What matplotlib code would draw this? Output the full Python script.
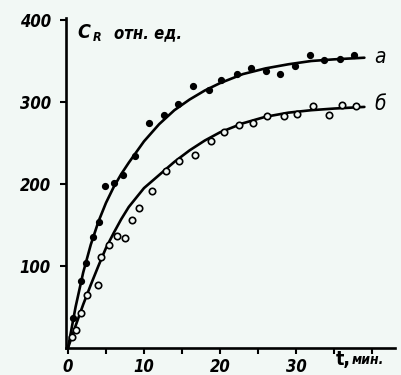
import numpy as np
import matplotlib
matplotlib.use('Agg')
import matplotlib.pyplot as plt

# кривая а (залитые точки)
t_a = [0.7, 1.7, 2.4, 3.3, 4.1, 4.9, 6.1, 7.3, 8.8, 10.7, 12.6, 14.5, 16.5, 18.5,
       20.2, 22.2, 24.1, 26.1, 27.9, 29.9, 31.8, 33.7, 35.8, 37.6]
c_a = [37, 82, 104, 135, 154, 197, 201, 211, 234, 274, 284, 298, 320, 315,
       327, 334, 342, 338, 334, 344, 357, 351, 352, 357]

# кривая б (светлые точки)
t_b = [0.5, 1.05, 1.7, 2.5, 3.9, 4.4, 5.4, 6.5, 7.5, 8.4, 9.3, 11.0, 12.9, 14.6,
       16.7, 18.8, 20.5, 22.5, 24.4, 26.2, 28.4, 30.2, 32.2, 34.3, 36.0, 37.9]
c_b = [14, 22, 43, 65, 77, 111, 126, 137, 134, 156, 171, 191, 216, 228,
       235, 253, 264, 272, 275, 283, 283, 285, 295, 284, 296, 295]

# сглаженные линии
t_line = [0, 1, 2, 3, 4, 5, 6, 7, 8, 10, 12, 14, 16, 18, 20, 23, 26, 29, 32, 35, 39]
line_a = [0, 50, 92, 126, 154, 177, 196, 212, 226, 252, 273, 290, 303, 314, 323,
          334, 341, 346, 350, 352, 354]
line_b = [0, 27, 53, 77, 100, 122, 140, 157, 172, 195, 211, 227, 241, 253, 263,
          274, 282, 287, 290, 292, 294]

y_ticks = [100, 200, 300, 400]
x_major = [0, 10, 20, 30]
x_minor = [5, 15, 25, 35, 40]

plt.rcParams['font.family'] = ['Liberation Sans Narrow', 'DejaVu Sans']
plt.rcParams['font.stretch'] = 'condensed'

bg = '#f2f8f5'
fig = plt.figure(figsize=(4.01, 3.75), dpi=100, facecolor=bg)
W, H = 401, 375
ax = fig.add_axes([66 / W, 27 / H, (395 - 66) / W, (348 - 18) / H], facecolor=bg)

ax.plot(t_line, line_a, color='black', lw=1.9, solid_capstyle='round')
ax.plot(t_line, line_b, color='black', lw=1.9, solid_capstyle='round')
ax.plot(t_a, c_a, 'o', ms=4.2, color='black', zorder=3)
ax.plot(t_b, c_b, 'o', ms=4.6, mfc=bg, mec='black', mew=1.2, zorder=3)

ax.set_xlim(-0.26, (395 - 66) / 7.6 - 0.26)
ax.set_ylim(0, (348 - 18) / 0.82)

for s in ['top', 'right']:
    ax.spines[s].set_visible(False)
for s in ['left', 'bottom']:
    ax.spines[s].set_linewidth(1.9)
ax.spines['left'].set_bounds(0, 402)

ax.set_yticks(y_ticks)
ax.set_yticklabels([str(v) for v in y_ticks], fontsize=12, fontweight='bold',
                   style='italic')
ax.set_xticks(x_major)
ax.set_xticklabels([str(v) for v in x_major], fontsize=12, fontweight='bold',
                   style='italic')
ax.set_xticks(x_minor, minor=True)
ax.tick_params(axis='both', which='both', direction='out', width=1.5, length=4,
               pad=3)
ax.tick_params(axis='y', pad=7)

# подписи
ax.text(1.2, 385, 'C', fontsize=14, style='italic', fontweight='bold', va='center')
ax.text(3.2, 379, 'R', fontsize=9, style='italic', fontweight='bold', va='center')
ax.text(6.0, 384, 'отн. ед.', fontsize=12, style='italic', fontweight='bold',
        va='center')
ax.text(40.3, 355, 'а', fontsize=15, style='italic', va='center')
ax.text(40.3, 298, 'б', fontsize=15, style='italic', va='center')
fig.text(336 / W, 1 - 360 / H, 't,', fontsize=14, fontweight='bold', va='center')
fig.text(352 / W, 1 - 360 / H, 'мин.', fontsize=10, fontweight='bold',
         style='italic', va='center')

fig.savefig('out.png', dpi=100, facecolor=bg)
